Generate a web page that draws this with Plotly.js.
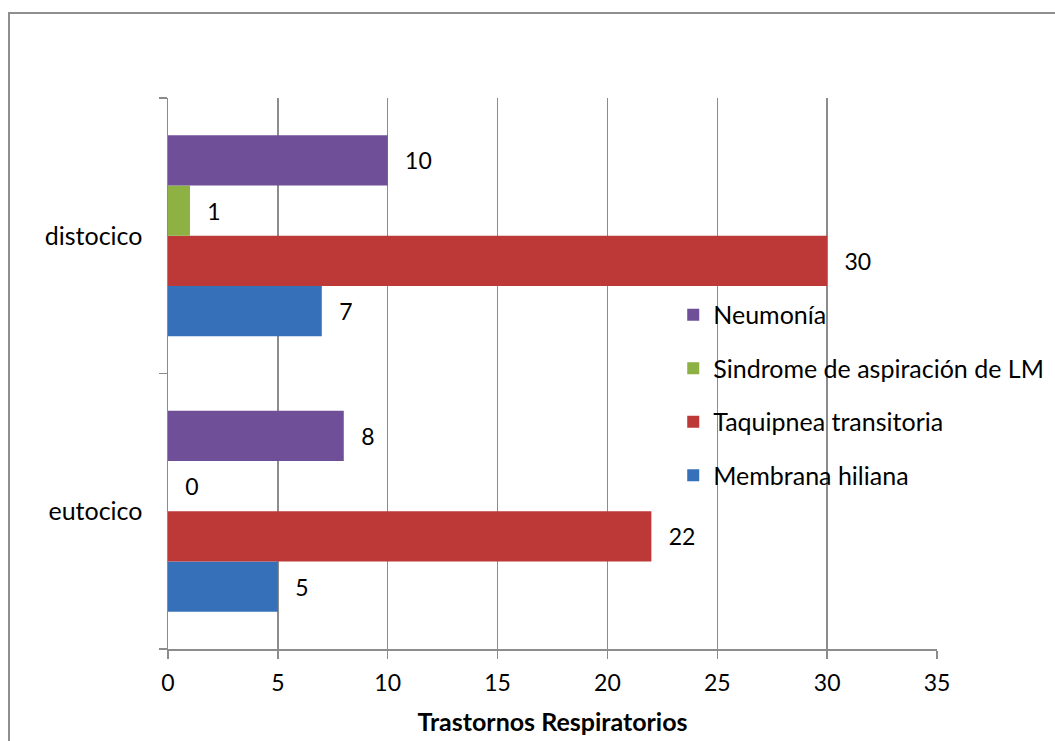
<!DOCTYPE html>
<html>
<head>
<meta charset="utf-8">
<script src="https://cdn.plot.ly/plotly-3.0.1.min.js"></script>
<style>
  html, body { margin: 0; padding: 0; width: 1055px; height: 741px; overflow: hidden; background: #fff; }
  #chart { position: absolute; left: 0; top: 0; width: 1055px; height: 741px; }
  #frame { position: absolute; left: 8px; top: 12px; width: 1100px; height: 800px;
           border: 2px solid #8f8f8f; box-sizing: border-box; pointer-events: none; }
</style>
</head>
<body>
<div id="chart"></div>
<div id="frame"></div>
<script>
// Tipo de parto (categorías del eje vertical)
const categories = ['eutocico', 'distocico'];

// Casos por trastorno respiratorio
const seriesNames = ['Membrana hiliana', 'Taquipnea transitoria', 'Sindrome de aspiración de LM', 'Neumonía'];
const membranaHiliana = [5, 7];
const taquipneaTransitoria = [22, 30];
const sindromeAspiracion = [0, 1];
const neumonia = [8, 10];

const seriesValues = [membranaHiliana, taquipneaTransitoria, sindromeAspiracion, neumonia];
const seriesColors = ['#3570b9', '#bc3937', '#8db142', '#6f4f98'];

const xTickValues = [0, 5, 10, 15, 20, 25, 30, 35];

const FONT = 'Lato, "Open Sans", sans-serif';
const WORD_SIZE = 25;
const DIGIT_SIZE = 23;
const GRID = '#8c8c8c';

const traces = seriesNames.map((name, i) => ({
  type: 'bar',
  orientation: 'h',
  name: name,
  y: categories,
  x: seriesValues[i],
  legendgroup: 'g' + i,
  legendrank: seriesNames.length - i,
  marker: { color: seriesColors[i], line: { width: 0 } },
  text: seriesValues[i].map(String),
  texttemplate: '\u2002\u2009%{text}',
  textposition: 'outside',
  constraintext: 'none',
  cliponaxis: false,
  textfont: { family: FONT, size: DIGIT_SIZE, color: '#000' },
  hoverinfo: 'skip'
}));

const layout = {
  width: 1055,
  height: 741,
  margin: { l: 168, r: 118, t: 98, b: 92, autoexpand: false },
  paper_bgcolor: 'rgba(0,0,0,0)',
  plot_bgcolor: 'rgba(0,0,0,0)',
  font: { family: FONT, size: WORD_SIZE, color: '#000' },
  barmode: 'group',
  bargap: 0.27,
  bargroupgap: 0,
  showlegend: true,
  legend: {
    x: 0.657, y: 0.648, xanchor: 'left', yanchor: 'top',
    traceorder: 'grouped',
    tracegroupgap: 18,
    bgcolor: 'rgba(0,0,0,0)',
    font: { family: FONT, size: WORD_SIZE, color: '#000' }
  },
  xaxis: {
    range: [0, 35],
    tickvals: xTickValues,
    ticktext: xTickValues.map(String),
    showgrid: true, gridcolor: GRID, gridwidth: 1.5,
    zeroline: false,
    showline: true, linecolor: GRID, linewidth: 1.5,
    ticks: 'outside', ticklen: 8, tickcolor: GRID, tickwidth: 1.5,
    ticklabelstandoff: 5,
    tickfont: { family: FONT, size: DIGIT_SIZE, color: '#000' },
    title: { text: '<b>Trastornos Respiratorios</b>', standoff: 18,
             font: { family: FONT, size: WORD_SIZE, color: '#000' } },
    automargin: false
  },
  yaxis: {
    type: 'category',
    categoryorder: 'array',
    categoryarray: categories,
    showgrid: false,
    zeroline: false,
    showline: true, linecolor: GRID, linewidth: 1.5,
    ticks: 'outside', tickson: 'boundaries', ticklen: 8, tickcolor: GRID, tickwidth: 1.5,
    ticklabelstandoff: 19,
    tickfont: { family: FONT, size: WORD_SIZE, color: '#000' },
    automargin: false
  }
};

Plotly.newPlot('chart', traces, layout, { displayModeBar: false, staticPlot: true });
</script>
</body>
</html>
